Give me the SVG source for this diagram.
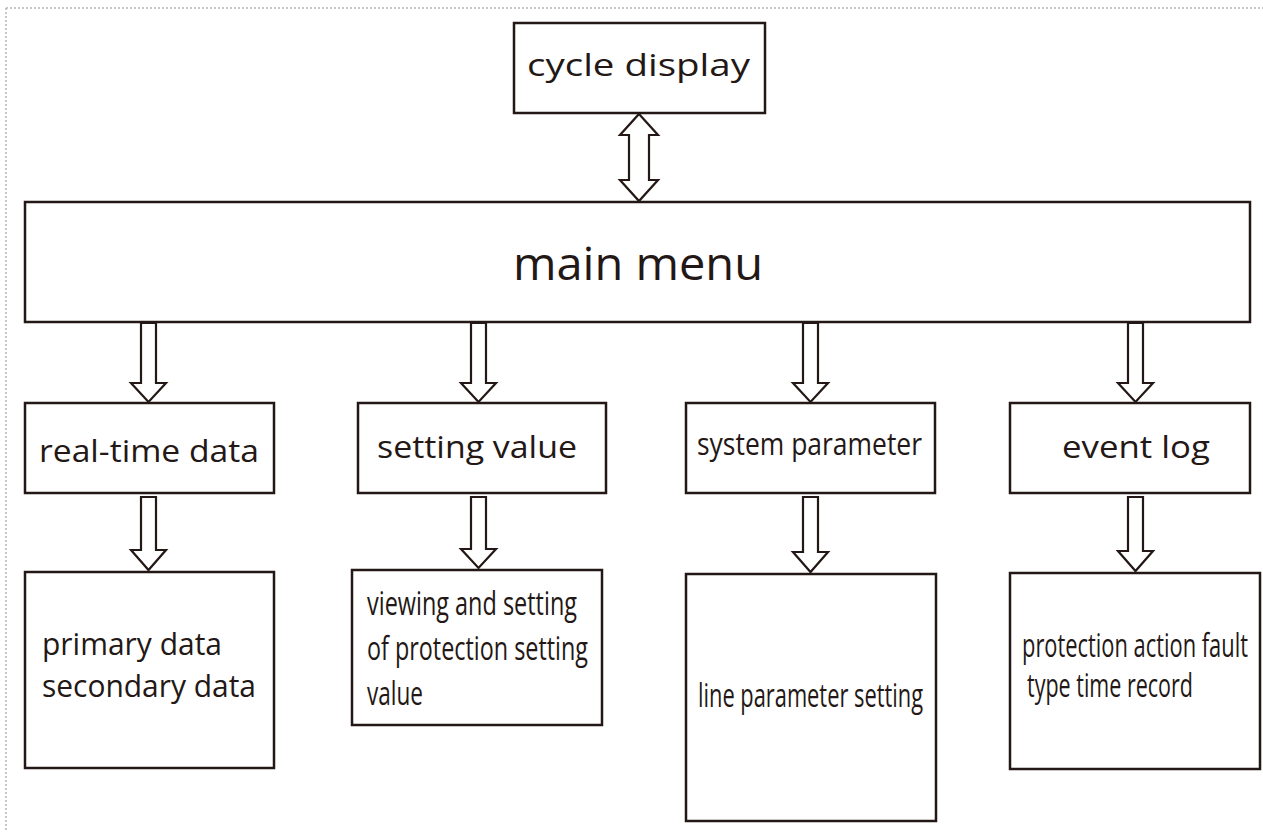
<svg xmlns="http://www.w3.org/2000/svg" width="1263" height="832" viewBox="0 0 1263 832">
  <style>
    .box { fill: #ffffff; stroke: #231815; stroke-width: 2.5; }
    .arrow { fill: #ffffff; stroke: #231815; stroke-width: 2.2; stroke-linejoin: miter; }
    .frame { fill: none; stroke: #b5b5b5; stroke-width: 1.5; stroke-dasharray: 2 2; }
    text { font-family: "Open Sans", "Noto Sans", "DejaVu Sans", sans-serif; fill: #231815; }
    .t30 { font-size: 31px; }
    .t40 { font-size: 46px; }
    .tc { font-size: 33px; }
  </style>

  <rect width="1263" height="832" fill="#ffffff"/>
  <!-- dotted page frame -->
  <path class="frame" d="M6,8 H1263 M6,8 V832"/>

  <!-- connectors -->
  <g id="connectors">
    <!-- cycle display <-> main menu -->
    <path class="arrow" d="M639,114 L658,135 L649,135 L649,180 L658,180 L639,201 L620,180 L629,180 L629,135 L620,135 Z"/>
    <!-- main menu -> level 1 -->
    <path class="arrow" d="M141,323 H156 V383 H166 L148.5,402 L131,383 H141 Z"/>
    <path class="arrow" d="M471,323 H486 V383 H496 L478.5,402 L461,383 H471 Z"/>
    <path class="arrow" d="M803,323 H818 V383 H828 L810.5,402 L793,383 H803 Z"/>
    <path class="arrow" d="M1128,323 H1143 V383 H1153 L1135.5,402 L1118,383 H1128 Z"/>
    <!-- level 1 -> level 2 -->
    <path class="arrow" d="M141,497 H156 V550 H166 L148.5,570 L131,550 H141 Z"/>
    <path class="arrow" d="M471,497 H486 V549 H496 L478.5,568 L461,549 H471 Z"/>
    <path class="arrow" d="M803,497 H818 V552 H828 L810.5,572 L793,552 H803 Z"/>
    <path class="arrow" d="M1128,497 H1143 V551 H1153 L1135.5,571 L1118,551 H1128 Z"/>
  </g>

  <g id="cycle-display">
    <rect class="box" x="514" y="23" width="251" height="90"/>
    <text class="t30" x="527" y="76" textLength="223" lengthAdjust="spacingAndGlyphs">cycle display</text>
  </g>

  <g id="main-menu">
    <rect class="box" x="25" y="202" width="1225" height="120"/>
    <text class="t40" x="513" y="280" textLength="250" lengthAdjust="spacingAndGlyphs">main menu</text>
  </g>

  <g id="real-time-data">
    <rect class="box" x="25" y="403" width="249" height="90"/>
    <text class="t30" x="39" y="462" textLength="220" lengthAdjust="spacingAndGlyphs">real-time data</text>
  </g>

  <g id="setting-value">
    <rect class="box" x="358" y="403" width="248" height="90"/>
    <text class="t30" x="377" y="458" textLength="200" lengthAdjust="spacingAndGlyphs">setting value</text>
  </g>

  <g id="system-parameter">
    <rect class="box" x="686" y="403" width="249" height="90"/>
    <text class="t30" x="697" y="455" textLength="225" lengthAdjust="spacingAndGlyphs">system parameter</text>
  </g>

  <g id="event-log">
    <rect class="box" x="1010" y="403" width="240" height="90"/>
    <text class="t30" x="1062" y="458" textLength="148" lengthAdjust="spacingAndGlyphs">event log</text>
  </g>

  <g id="data-detail">
    <rect class="box" x="25" y="572" width="249" height="196"/>
    <text class="t30" x="42" y="655" textLength="180" lengthAdjust="spacingAndGlyphs">primary data</text>
    <text class="t30" x="42" y="697" textLength="214" lengthAdjust="spacingAndGlyphs">secondary data</text>
  </g>

  <g id="setting-detail">
    <rect class="box" x="352" y="570" width="250" height="155"/>
    <text class="tc" x="367" y="615" textLength="210" lengthAdjust="spacingAndGlyphs">viewing and setting</text>
    <text class="tc" x="367" y="660" textLength="221" lengthAdjust="spacingAndGlyphs">of protection setting</text>
    <text class="tc" x="367" y="705" textLength="56" lengthAdjust="spacingAndGlyphs">value</text>
  </g>

  <g id="parameter-detail">
    <rect class="box" x="686" y="574" width="250" height="247"/>
    <text class="tc" x="698" y="707" textLength="225" lengthAdjust="spacingAndGlyphs">line parameter setting</text>
  </g>

  <g id="log-detail">
    <rect class="box" x="1010" y="573" width="250" height="196"/>
    <text class="tc" x="1022" y="657" textLength="226" lengthAdjust="spacingAndGlyphs">protection action fault</text>
    <text class="tc" x="1027" y="697" textLength="166" lengthAdjust="spacingAndGlyphs">type time record</text>
  </g>
</svg>
